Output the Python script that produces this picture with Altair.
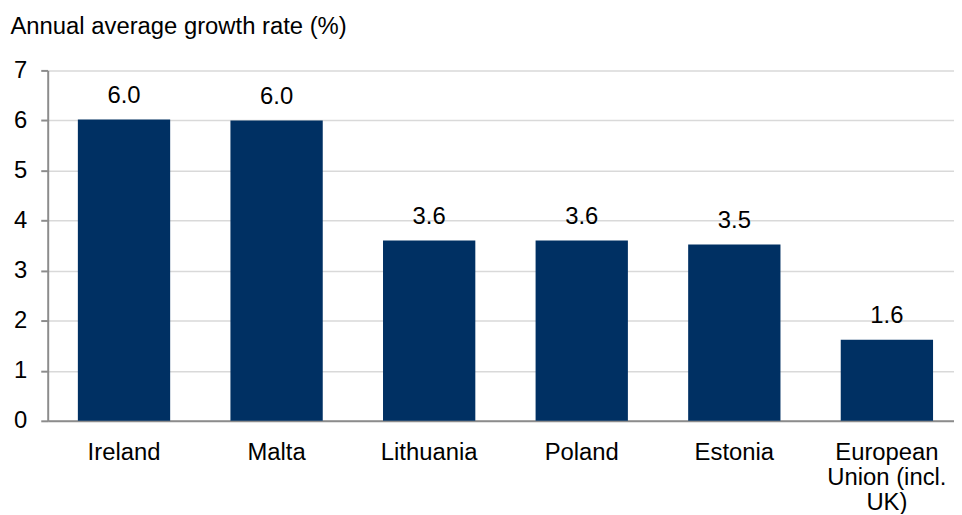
import altair as alt
import pandas as pd

countries = ["Ireland", "Malta", "Lithuania", "Poland", "Estonia", "European Union (incl. UK)"]
growth = [6.02, 6.0, 3.6, 3.6, 3.52, 1.62]
labels = ["6.0", "6.0", "3.6", "3.6", "3.5", "1.6"]

df = pd.DataFrame({"country": countries, "growth": growth, "label": labels})

FONT = "Liberation Sans"
FS = 24

x = alt.X(
    "country:N",
    sort=countries,
    title=None,
    scale=alt.Scale(paddingInner=0.395, paddingOuter=0.1675, align=0.59),
    axis=alt.Axis(
        labelAngle=0,
        ticks=False,
        labelPadding=20,
        labelFont=FONT,
        labelFontSize=FS,
        labelColor="#000000",
        labelLineHeight=25,
        domainColor="#8c8c8c",
        domainWidth=2,
        labelExpr="datum.label == 'European Union (incl. UK)' ? ['European', 'Union (incl.', 'UK)'] : datum.label",
    ),
)

y = alt.Y(
    "growth:Q",
    scale=alt.Scale(domain=[0, 7], nice=False),
    axis=alt.Axis(
        values=[0, 1, 2, 3, 4, 5, 6, 7],
        format="d",
        title="Annual average growth rate (%)",
        titleAngle=0,
        titleAlign="left",
        titleBaseline="alphabetic",
        titleX=-38,
        titleY=-37,
        titleFont=FONT,
        titleFontSize=FS,
        titleFontWeight="normal",
        titleColor="#000000",
        labelFont=FONT,
        labelFontSize=FS,
        labelColor="#000000",
        labelPadding=14,
        tickSize=7,
        tickColor="#8c8c8c",
        tickWidth=2,
        domainColor="#8c8c8c",
        domainWidth=2,
        gridColor="#d9d9d9",
        gridWidth=1.5,
    ),
)

bars = alt.Chart(df).mark_bar(color="#003063").encode(x=x, y=y)

text = alt.Chart(df).mark_text(
    baseline="alphabetic", dy=-17, font=FONT, fontSize=FS, color="#000000"
).encode(x=alt.X("country:N", sort=countries), y="growth:Q", text="label:N")

chart = (
    alt.layer(bars, text)
    .properties(
        width=913,
        height=353,
        padding={"left": 40, "top": 61, "right": 0, "bottom": 92},
        autosize=alt.AutoSizeParams(type="none"),
    )
    .configure_view(stroke=None)
)

chart.save("out.html", embed_options={"renderer": "svg", "actions": False})
